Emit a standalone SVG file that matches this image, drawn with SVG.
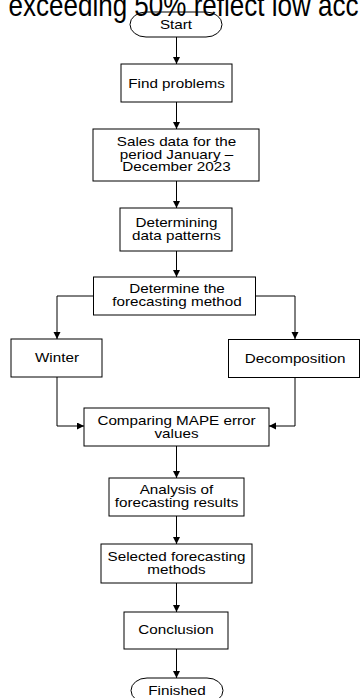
<svg xmlns="http://www.w3.org/2000/svg" width="360" height="698" viewBox="0 0 360 698">
<defs>
<style>
.n rect{fill:#fff;stroke:#000;stroke-width:1}
text{font-family:"Liberation Sans",Arial,sans-serif;font-size:12px;fill:#000;text-anchor:middle}
.c path{fill:none;stroke:#000;stroke-width:1;marker-end:url(#ah)}
.title{font-size:31px;text-anchor:start}
</style>
<marker id="ah" markerUnits="userSpaceOnUse" markerWidth="8" markerHeight="8" refX="7" refY="3.5" orient="auto">
<path d="M0,0 L7,3.5 L0,7 z" fill="#000"/>
</marker>
</defs>
<rect width="360" height="698" fill="#fff"/>
<g class="c" id="connectors">
<path d="M176.5,37 V64"/>
<path d="M176.5,102 V129"/>
<path d="M176.5,181 V208"/>
<path d="M176.5,251 V277"/>
<path d="M93.5,296 H57 V339"/>
<path d="M255.5,296 H295 V339"/>
<path d="M57,377 V426 H84"/>
<path d="M295,377.5 V426 H269"/>
<path d="M176.5,446 V478"/>
<path d="M176.5,516 V544"/>
<path d="M176.5,583 V612"/>
<path d="M176.5,649 V678"/>
</g>
<g class="n" id="start"><rect x="130" y="12" width="92" height="25" rx="16" ry="12.5"/><text transform="translate(176,29) scale(1.27,1)">Start</text></g>
<g class="n" id="find"><rect x="121" y="64" width="111" height="38"/><text transform="translate(176.5,88) scale(1.27,1)">Find problems</text></g>
<g class="n" id="sales"><rect x="93" y="129" width="166" height="52"/>
<text transform="translate(176.5,146) scale(1.27,1)">Sales data for the</text>
<text transform="translate(176.5,158.5) scale(1.27,1)">period January –</text>
<text transform="translate(176.5,171) scale(1.27,1)">December 2023</text></g>
<g class="n" id="patterns"><rect x="120" y="208" width="112" height="43"/>
<text transform="translate(176.5,227) scale(1.27,1)">Determining</text>
<text transform="translate(176.5,239.5) scale(1.27,1)">data patterns</text></g>
<g class="n" id="method"><rect x="93.5" y="277" width="162" height="38"/>
<text transform="translate(177,292.7) scale(1.27,1)">Determine the</text>
<text transform="translate(177,306) scale(1.27,1)">forecasting method</text></g>
<g class="n" id="winter"><rect x="11" y="339" width="91" height="38"/><text transform="translate(57,362) scale(1.27,1)">Winter</text></g>
<g class="n" id="decomposition"><rect x="228.5" y="339.5" width="131" height="38"/><text transform="translate(295,362.5) scale(1.27,1)">Decomposition</text></g>
<g class="n" id="comparing"><rect x="84" y="408" width="185" height="38"/>
<text transform="translate(176.5,425) scale(1.27,1)">Comparing MAPE error</text>
<text transform="translate(176.5,437.5) scale(1.27,1)">values</text></g>
<g class="n" id="analysis"><rect x="109" y="478" width="135" height="38"/>
<text transform="translate(176.5,494) scale(1.27,1)">Analysis of</text>
<text transform="translate(176.5,506.5) scale(1.27,1)">forecasting results</text></g>
<g class="n" id="selected"><rect x="101" y="544" width="151" height="39"/>
<text transform="translate(176.5,561) scale(1.27,1)">Selected forecasting</text>
<text transform="translate(176.5,573.5) scale(1.27,1)">methods</text></g>
<g class="n" id="conclusion"><rect x="124" y="612" width="104" height="37"/><text transform="translate(176,634) scale(1.27,1)">Conclusion</text></g>
<g class="n" id="finished"><rect x="131" y="678" width="92" height="25" rx="16" ry="12.5"/><text transform="translate(177,695) scale(1.27,1)">Finished</text></g>
<text class="title" transform="translate(8.5,16) scale(0.84,1)">exceeding 50% reflect low acc</text>
</svg>
